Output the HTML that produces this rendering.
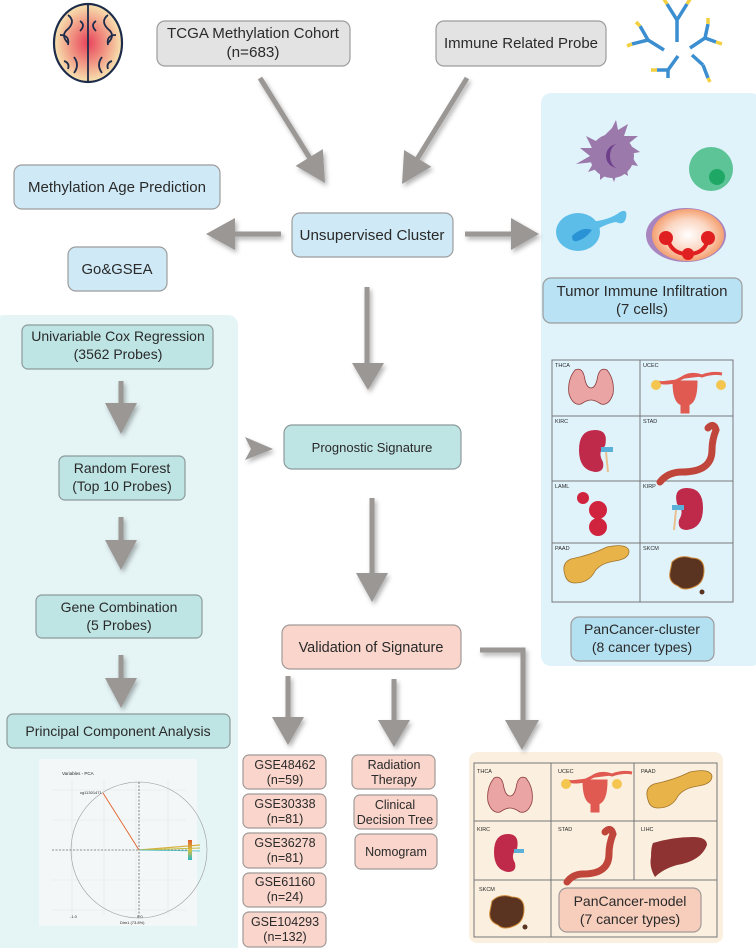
<!DOCTYPE html>
<html><head><meta charset="utf-8"><style>
html,body{margin:0;padding:0;background:#fff;}
svg{display:block;}
text{font-family:"Liberation Sans",Arial,sans-serif;fill:#2a2a2a;}
</style></head><body>
<svg width="756" height="948" viewBox="0 0 756 948" xmlns="http://www.w3.org/2000/svg">
<defs>
<filter id="sh" x="-50%" y="-50%" width="200%" height="200%"><feDropShadow dx="2" dy="3" stdDeviation="2.5" flood-color="#000" flood-opacity="0.3"/></filter>
<radialGradient id="brainG" cx="0.5" cy="0.5" r="0.5"><stop offset="0" stop-color="#e8425a"/><stop offset="0.6" stop-color="#f2a28a"/><stop offset="1" stop-color="#f7e3b0"/></radialGradient>
<radialGradient id="orG" cx="0.5" cy="0.5" r="0.5"><stop offset="0" stop-color="#fff"/><stop offset="0.6" stop-color="#fbd6c2"/><stop offset="1" stop-color="#f4a070"/></radialGradient>
<linearGradient id="leg" x1="0" y1="0" x2="0" y2="1"><stop offset="0" stop-color="#e0602a"/><stop offset="0.5" stop-color="#d8c040"/><stop offset="1" stop-color="#2ab8c8"/></linearGradient>
</defs>

<!-- panels -->
<rect x="-6" y="315" width="244" height="640" rx="10" fill="#e5f4f5"/>
<rect x="541" y="93" width="220" height="573" rx="10" fill="#e0f3fb"/>
<rect x="469" y="752" width="254" height="191" rx="8" fill="#fbf0df"/>

<!-- brain -->
<g transform="translate(88,43)">
<ellipse cx="0" cy="0" rx="34" ry="39" fill="url(#brainG)" stroke="#1d2c4a" stroke-width="2.2"/>
<path d="M0,-38 V38 M-20,-28 q8,6 0,14 q-8,6 0,14 M-28,-8 q10,0 8,10 M20,-28 q-8,6 0,14 q8,6 0,14 M28,-8 q-10,0 -8,10 M-14,14 q6,8 0,16 M14,14 q-6,8 0,16 M-8,-22 q6,4 0,10 M8,-22 q-6,4 0,10 M-24,18 q6,2 4,8 M24,18 q-6,2 -4,8" fill="none" stroke="#1d2c4a" stroke-width="1.8"/>
</g>

<!-- antibodies -->
<g stroke-width="3.5" stroke-linecap="butt" fill="none">
<path d="M677,42 V20 M677,20 L667,4 M677,20 L687,4" stroke="#3b8ed0"/>
<path d="M667,4 L662,-4 M687,4 L692,-4" stroke="#f2d040"/>
<path d="M664,50 L648,40 M648,40 L632,44 M648,40 L640,26" stroke="#3b8ed0"/>
<path d="M632,44 L627,46 M640,26 L636,22" stroke="#f2d040"/>
<path d="M690,48 L705,38 M705,38 L716,42 M705,38 L708,24" stroke="#3b8ed0"/>
<path d="M716,42 L722,44 M708,24 L708,18" stroke="#f2d040"/>
<path d="M678,56 L668,70 M668,70 L657,70 M668,70 L668,78" stroke="#3b8ed0"/>
<path d="M657,70 L651,70" stroke="#f2d040"/>
<path d="M692,55 L703,65 M703,65 L708,78" stroke="#3b8ed0"/>
<path d="M708,78 L710,82" stroke="#f2d040"/>
</g>

<!-- top boxes -->
<rect x="157" y="21" width="193" height="45" rx="8" fill="#e3e3e3" stroke="#9c9c9c" stroke-width="1.2"/>
<text x="253" y="38" font-size="15" text-anchor="middle" textLength="172" lengthAdjust="spacingAndGlyphs">TCGA Methylation Cohort</text>
<text x="253" y="57" font-size="15" text-anchor="middle" textLength="53" lengthAdjust="spacingAndGlyphs">(n=683)</text>
<rect x="436" y="21" width="170" height="45" rx="8" fill="#e3e3e3" stroke="#9c9c9c" stroke-width="1.2"/>
<text x="521" y="48" font-size="15" text-anchor="middle" textLength="154" lengthAdjust="spacingAndGlyphs">Immune Related Probe</text>

<!-- arrows -->
<g fill="#9a9795" stroke="#9a9795" filter="url(#sh)">
<line x1="260" y1="78" x2="311" y2="160" stroke-width="5"/>
<polygon points="325,183 295.6,165.9 322.8,149.1" stroke="none"/>
<line x1="467" y1="78" x2="416" y2="161" stroke-width="5"/>
<polygon points="402,184 404.1,150 431.3,166.8" stroke="none"/>
<line x1="281" y1="234" x2="232" y2="234" stroke-width="5"/>
<polygon points="206,234 235,218 235,250" stroke="none"/>
<line x1="465" y1="234" x2="513" y2="234" stroke-width="5"/>
<polygon points="539,234 511,218 511,250" stroke="none"/>
<line x1="367" y1="287" x2="367" y2="365" stroke-width="5"/>
<polygon points="352,363 384,363 368,390" stroke="none"/>
<line x1="372" y1="498" x2="372" y2="575" stroke-width="5"/>
<polygon points="356,573 388,573 372,602" stroke="none"/>
<polygon points="245,437 273,449 245,460 251,449" stroke="none"/>
<line x1="121" y1="381" x2="121" y2="405" stroke-width="5"/>
<polygon points="105,403 137,403 121,434" stroke="none"/>
<line x1="121" y1="517" x2="121" y2="542" stroke-width="5"/>
<polygon points="105,540 137,540 121,570" stroke="none"/>
<line x1="121" y1="655" x2="121" y2="680" stroke-width="5"/>
<polygon points="105,678 137,678 121,708" stroke="none"/>
<line x1="288" y1="676" x2="288" y2="719" stroke-width="5"/>
<polygon points="272,717 304,717 288,745" stroke="none"/>
<line x1="394" y1="679" x2="394" y2="722" stroke-width="5"/>
<polygon points="378,720 410,720 394,747" stroke="none"/>
<polyline points="480,650 523,650 523,722" fill="none" stroke-width="5"/>
<polygon points="505,720 539,720 522,750" stroke="none"/>
</g>

<!-- blue boxes -->
<rect x="14" y="165" width="206" height="44" rx="8" fill="#cfeaf6" stroke="#9c9c9c" stroke-width="1.2"/>
<text x="117" y="192" font-size="15" text-anchor="middle" textLength="178" lengthAdjust="spacingAndGlyphs">Methylation Age Prediction</text>
<rect x="68" y="247" width="99" height="44" rx="8" fill="#cfeaf6" stroke="#9c9c9c" stroke-width="1.2"/>
<text x="117" y="274" font-size="15" text-anchor="middle" textLength="71" lengthAdjust="spacingAndGlyphs">Go&amp;GSEA</text>
<rect x="292" y="213" width="161" height="44" rx="8" fill="#cfeaf6" stroke="#9c9c9c" stroke-width="1.2"/>
<text x="372" y="240" font-size="15" text-anchor="middle" textLength="145" lengthAdjust="spacingAndGlyphs">Unsupervised Cluster</text>

<!-- cells -->
<g>
<path d="M612,128 l4,-8 l2,10 l10,-6 l-4,12 l14,0 l-10,8 l12,8 l-10,2 l8,12 l-12,-2 l2,12 l-10,-6 l-4,12 l-4,-10 l-10,8 l0,-12 l-12,4 l6,-10 l-18,2 l14,-8 l-10,-8 l12,0 l-6,-12 l12,6 z" fill="#9b79ab"/>
<circle cx="612" cy="156" r="22" fill="#9b79ab"/>
<path d="M618,144 a12,12 0 1,0 0,24 a8,12 0 1,1 0,-24z" fill="#6e3f8a"/>
<circle cx="711" cy="169" r="22" fill="#5cc497"/>
<circle cx="717" cy="177" r="8" fill="#1fa865"/>
<path d="M590,222 q20,-2 30,-10 q8,-4 6,6 q-2,8 -10,4 q-12,2 -26,12z" fill="#5bbde8"/>
<ellipse cx="578" cy="232" rx="22" ry="19" fill="#5bbde8"/>
<path d="M572,236 q10,-10 20,-6 q-6,8 -12,10 q-8,4 -8,-4z" fill="#2a93d6"/>
<ellipse cx="686" cy="235" rx="40" ry="27" fill="#a985c0"/>
<ellipse cx="688" cy="235" rx="36" ry="26" fill="url(#orG)"/>
<path d="M668,240 q4,14 20,14 q16,0 20,-14" fill="none" stroke="#e02020" stroke-width="4"/>
<circle cx="666" cy="238" r="7" fill="#e02020"/><circle cx="708" cy="238" r="7" fill="#e02020"/><circle cx="688" cy="254" r="6" fill="#e02020"/>
</g>
<rect x="543" y="278" width="199" height="45" rx="8" fill="#b9e3f4" stroke="#9c9c9c" stroke-width="1.2"/>
<text x="642" y="296" font-size="15" text-anchor="middle" textLength="171" lengthAdjust="spacingAndGlyphs">Tumor Immune Infiltration</text>
<text x="642" y="314" font-size="15" text-anchor="middle" textLength="52" lengthAdjust="spacingAndGlyphs">(7 cells)</text>

<!-- cancer grid 8 -->
<g stroke="#777" stroke-width="1" fill="none">
<rect x="552" y="360" width="181" height="242"/>
<line x1="640" y1="360" x2="640" y2="602"/>
<line x1="552" y1="416" x2="733" y2="416"/><line x1="552" y1="481" x2="733" y2="481"/><line x1="552" y1="543" x2="733" y2="543"/>
</g>
<g font-size="5.5">
<text x="555" y="367">THCA</text><text x="643" y="367">UCEC</text>
<text x="555" y="423">KIRC</text><text x="643" y="423">STAD</text>
<text x="555" y="488">LAML</text><text x="643" y="488">KIRP</text>
<text x="555" y="550">PAAD</text><text x="643" y="550">SKCM</text>
</g>
<!-- organs -->
<g id="thy"><path d="M575,370 q-8,10 -6,24 q4,12 12,10 q6,-4 10,-4 q4,0 10,4 q8,2 12,-10 q2,-14 -6,-24 q-8,-4 -10,10 q-2,8 -6,8 q-4,0 -6,-8 q-2,-14 -10,-10z" fill="#eaa4a4" stroke="#8a3a3a" stroke-width="0.8"/></g>
<g><path d="M656,382 q12,2 18,0 l8,-4 q8,-6 20,-2 q10,-4 20,-2 M674,382 q0,20 8,22 v8 h6 v-8 q8,-2 8,-22z" fill="#e05a52" stroke="#e05a52" stroke-width="3"/><circle cx="656" cy="385" r="5" fill="#f4c650"/><circle cx="721" cy="385" r="5" fill="#f4c650"/></g>
<g><path d="M595,430 q-16,0 -16,20 q0,20 16,22 q10,0 8,-10 q-6,-10 2,-16 q4,-16 -10,-16z" fill="#c02a4a"/><rect x="601" y="447" width="12" height="5" fill="#5ab0d8"/><line x1="606" y1="452" x2="608" y2="472" stroke="#e8c090" stroke-width="2"/></g>
<g><path d="M708,428 q6,-6 8,2 q-4,10 -4,20 q0,22 -30,22 q-14,0 -22,10" fill="none" stroke="#c0453a" stroke-width="7" stroke-linecap="round"/></g>
<g fill="#d0243e"><circle cx="583" cy="498" r="6"/><circle cx="598" cy="510" r="9"/><circle cx="598" cy="527" r="9"/></g>
<g><path d="M687,488 q16,0 16,20 q0,20 -16,22 q-10,0 -8,-10 q6,-10 -2,-16 q-4,-16 10,-16z" fill="#c02a4a"/><rect x="672" y="505" width="12" height="5" fill="#5ab0d8"/><line x1="676" y1="510" x2="674" y2="530" stroke="#e8c090" stroke-width="2"/></g>
<g><path d="M565,575 q-4,-12 6,-16 q20,-4 36,-12 q20,-4 22,4 q0,8 -14,10 q-14,2 -20,10 q-6,12 -20,12 q-8,0 -10,-8z" fill="#e8b44a" stroke="#a0722a" stroke-width="0.8"/></g>
<g><path d="M672,562 q8,-8 20,-4 q12,0 12,12 q0,12 -8,16 q-12,6 -18,0 q-10,-4 -8,-14z" fill="#5a3420" stroke="#d08a3a" stroke-width="1"/><circle cx="702" cy="592" r="2.5" fill="#5a3420"/></g>
<rect x="571" y="617" width="143" height="44" rx="8" fill="#b4e1f2" stroke="#9c9c9c" stroke-width="1.2"/>
<text x="642" y="634" font-size="14" text-anchor="middle">PanCancer-cluster</text>
<text x="642" y="652" font-size="14" text-anchor="middle">(8 cancer types)</text>

<!-- left teal boxes -->
<g fill="#bfe4e4" stroke="#8c9a9a" stroke-width="1.2">
<rect x="22" y="325" width="191" height="44" rx="6"/>
<rect x="59" y="456" width="126" height="44" rx="6"/>
<rect x="36" y="595" width="166" height="43" rx="6"/>
<rect x="7" y="714" width="223" height="34" rx="6"/>
<rect x="284" y="425" width="177" height="44" rx="8"/>
</g>
<g font-size="14" text-anchor="middle">
<text x="118" y="341">Univariable Cox Regression</text>
<text x="118" y="359">(3562 Probes)</text>
<text x="122" y="473">Random Forest</text>
<text x="122" y="491">(Top 10 Probes)</text>
<text x="119" y="612">Gene Combination</text>
<text x="119" y="630">(5 Probes)</text>
<text x="118" y="736">Principal Component Analysis</text>
<text x="372" y="452" font-size="13">Prognostic Signature</text>
</g>

<!-- PCA plot -->
<g>
<rect x="39" y="759" width="158" height="167" fill="#f4f7f7"/>
<text x="62" y="775" font-size="4.5">Variables - PCA</text>
<g stroke="#e4e8e8" stroke-width="0.6"><line x1="52" y1="790" x2="186" y2="790"/><line x1="52" y1="820" x2="186" y2="820"/><line x1="52" y1="850" x2="186" y2="850"/><line x1="52" y1="880" x2="186" y2="880"/><line x1="52" y1="910" x2="186" y2="910"/><line x1="72" y1="780" x2="72" y2="915"/><line x1="104" y1="780" x2="104" y2="915"/><line x1="136" y1="780" x2="136" y2="915"/><line x1="168" y1="780" x2="168" y2="915"/></g>
<circle cx="139" cy="850" r="68" fill="none" stroke="#999" stroke-width="0.6"/>
<line x1="52" y1="850" x2="190" y2="850" stroke="#333" stroke-width="0.6" stroke-dasharray="2,1.5"/>
<line x1="139" y1="782" x2="139" y2="918" stroke="#333" stroke-width="0.6" stroke-dasharray="2,1.5"/>
<line x1="139" y1="850" x2="103" y2="793" stroke="#e0602a" stroke-width="0.9"/>
<text x="80" y="794" font-size="4" fill="#e0602a">cg11301471</text>
<line x1="139" y1="850" x2="200" y2="845" stroke="#d8b040" stroke-width="1.2"/>
<line x1="139" y1="850" x2="200" y2="848" stroke="#c0c040" stroke-width="1"/>
<line x1="139" y1="850" x2="200" y2="851" stroke="#40b8c0" stroke-width="0.8"/>
<rect x="220" y="0" width="0" height="0"/>
<rect x="188" y="840" width="4" height="20" fill="url(#leg)"/>
<text x="70" y="918" font-size="4">-1.0</text><text x="137" y="918" font-size="4">0.0</text>
<text x="120" y="924" font-size="4">Dim1 (73.8%)</text>
</g>

<!-- validation -->
<g fill="#f9d5cb" stroke="#a09a98" stroke-width="1.2">
<rect x="282" y="625" width="179" height="44" rx="8"/>
<rect x="243" y="755" width="83" height="34" rx="6"/>
<rect x="243" y="794" width="83" height="34" rx="6"/>
<rect x="243" y="833" width="83" height="35" rx="6"/>
<rect x="243" y="873" width="83" height="34" rx="6"/>
<rect x="243" y="912" width="83" height="35" rx="6"/>
<rect x="352" y="755" width="83" height="34" rx="6"/>
<rect x="354" y="795" width="83" height="34" rx="6"/>
<rect x="355" y="834" width="82" height="35" rx="6"/>
</g>
<g text-anchor="middle" font-size="12.5">
<text x="371" y="652" font-size="14.5">Validation of Signature</text>
<text x="285" y="769">GSE48462</text><text x="285" y="784">(n=59)</text>
<text x="285" y="808">GSE30338</text><text x="285" y="823">(n=81)</text>
<text x="285" y="847">GSE36278</text><text x="285" y="862">(n=81)</text>
<text x="285" y="886">GSE61160</text><text x="285" y="901">(n=24)</text>
<text x="285" y="926">GSE104293</text><text x="285" y="941">(n=132)</text>
<text x="394" y="769">Radiation</text><text x="394" y="784">Therapy</text>
<text x="395" y="809">Clinical</text><text x="395" y="824">Decision Tree</text>
<text x="396" y="856">Nomogram</text>
</g>

<!-- cancer grid 7 -->
<g stroke="#777" stroke-width="1" fill="none">
<rect x="474" y="763" width="243" height="174"/>
<line x1="551" y1="763" x2="551" y2="937"/><line x1="634" y1="763" x2="634" y2="880"/>
<line x1="474" y1="821" x2="717" y2="821"/><line x1="474" y1="880" x2="717" y2="880"/>
</g>
<g font-size="5.5">
<text x="477" y="773">THCA</text><text x="558" y="773">UCEC</text><text x="641" y="773">PAAD</text>
<text x="477" y="831">KIRC</text><text x="558" y="831">STAD</text><text x="641" y="831">LIHC</text>
<text x="479" y="891">SKCM</text>
</g>
<path d="M494,778 q-8,10 -6,24 q4,12 12,10 q6,-4 10,-4 q4,0 10,4 q8,2 12,-10 q2,-14 -6,-24 q-8,-4 -10,10 q-2,8 -6,8 q-4,0 -6,-8 q-2,-14 -10,-10z" fill="#eaa4a4" stroke="#8a3a3a" stroke-width="0.8"/>
<path d="M566,781 q12,2 18,0 l8,-4 q8,-6 20,-2 q10,-4 20,-2 M584,781 q0,20 8,22 v8 h6 v-8 q8,-2 8,-22z" fill="#e05a52" stroke="#e05a52" stroke-width="3"/>
<circle cx="566" cy="784" r="5" fill="#f4c650"/><circle cx="617" cy="784" r="5" fill="#f4c650"/>
<path d="M648,800 q-4,-12 6,-16 q20,-4 36,-12 q20,-4 22,4 q0,8 -14,10 q-14,2 -20,10 q-6,12 -20,12 q-8,0 -10,-8z" fill="#e8b44a" stroke="#a0722a" stroke-width="0.8"/>
<path d="M508,834 q-14,0 -14,18 q0,18 14,20 q9,0 7,-9 q-5,-9 2,-14 q3,-15 -9,-15z" fill="#c02a4a"/>
<rect x="514" y="849" width="10" height="4" fill="#5ab0d8"/>
<path d="M605,832 q6,-6 8,2 q-4,10 -4,20 q0,20 -26,20 q-10,0 -16,8" fill="none" stroke="#c0453a" stroke-width="7" stroke-linecap="round"/>
<path d="M653,843 q20,-6 40,-6 q14,0 14,8 q-6,16 -30,20 q-14,4 -22,12 q-6,-10 -4,-20 q0,-10 2,-14z" fill="#8e3232"/>
<path d="M492,901 q8,-8 20,-4 q12,0 12,12 q0,12 -8,16 q-12,6 -18,0 q-10,-4 -8,-14z" fill="#5a3420" stroke="#d08a3a" stroke-width="1"/>
<circle cx="525" cy="927" r="2.5" fill="#5a3420"/>
<rect x="559" y="888" width="142" height="44" rx="8" fill="#f7cdbb" stroke="#a09a98" stroke-width="1.2"/>
<text x="630" y="906" font-size="14" text-anchor="middle">PanCancer-model</text>
<text x="630" y="924" font-size="14" text-anchor="middle">(7 cancer types)</text>
</svg>
</body></html>
